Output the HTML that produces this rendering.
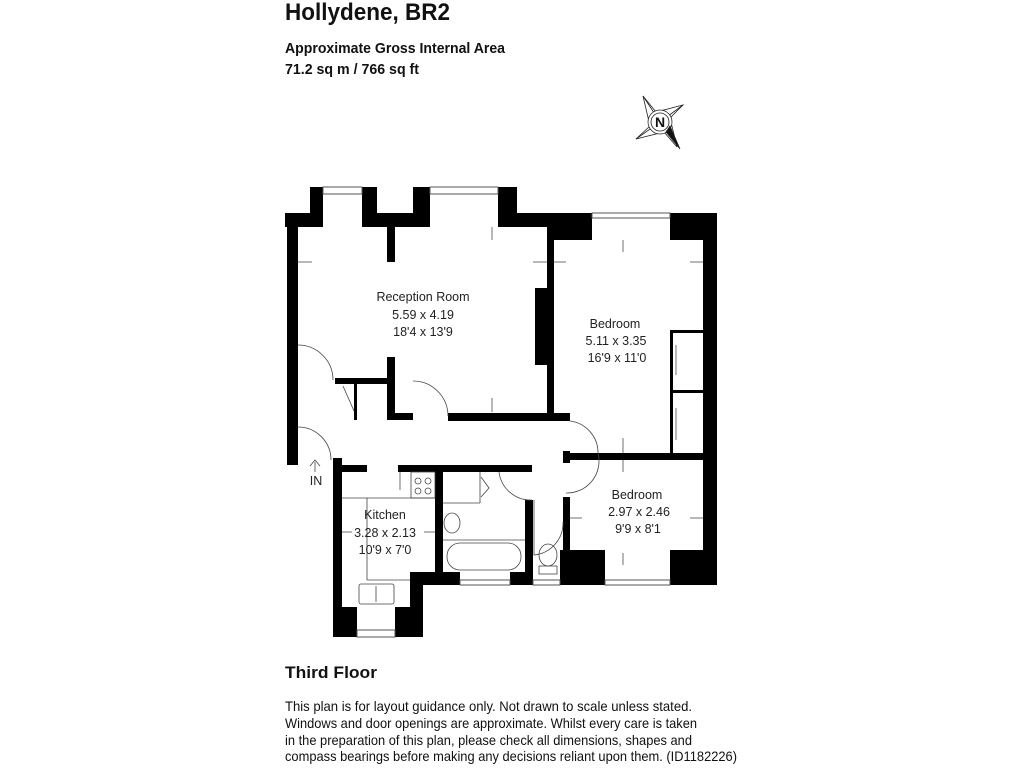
<!DOCTYPE html>
<html><head><meta charset="utf-8"><style>
html,body{margin:0;padding:0;background:#fff;}
svg{display:block;font-family:"Liberation Sans",Arial,sans-serif;}
</style></head><body>
<svg width="1024" height="768" viewBox="0 0 1024 768" xmlns="http://www.w3.org/2000/svg">
<rect width="1024" height="768" fill="#fff"/>
<!-- header -->
<text x="285" y="20" font-size="24" font-weight="bold" textLength="165" lengthAdjust="spacingAndGlyphs" fill="#111">Hollydene, BR2</text>
<text x="285" y="53" font-size="15" font-weight="bold" textLength="220" lengthAdjust="spacingAndGlyphs" fill="#111">Approximate Gross Internal Area</text>
<text x="285" y="74" font-size="15" font-weight="bold" textLength="134" lengthAdjust="spacingAndGlyphs" fill="#111">71.2 sq m / 766 sq ft</text>
<!-- compass -->
<g transform="translate(660,122)" stroke="#222" stroke-width="0.8" fill="none">
<polygon points="-17,-26 -4,-10 23,-17 10,-4 17,25 4,10 -24,17 -10,4"/>
<line x1="-17" y1="-26" x2="0" y2="0"/><line x1="23" y1="-17" x2="0" y2="0"/>
<line x1="-24" y1="17" x2="0" y2="0"/>
<circle cx="0" cy="0" r="12" fill="#fff"/><circle cx="0" cy="0" r="9" fill="#fff"/>
<polygon points="6,10 10,4 20,27" fill="#111"/>
<text x="0" y="5" font-size="14" font-weight="bold" text-anchor="middle" fill="#111" stroke="none">N</text>
</g>
<!-- walls -->
<g fill="#000">
<rect x="285" y="213" width="38" height="14"/>
<rect x="287" y="213" width="11" height="252"/>
<rect x="310" y="187" width="13" height="40"/>
<rect x="362" y="187" width="15" height="40"/>
<rect x="377" y="213" width="36" height="14"/>
<rect x="413" y="187" width="17" height="40"/>
<rect x="498" y="187" width="19" height="40"/>
<rect x="517" y="213" width="75" height="14"/>
<rect x="548" y="213" width="44" height="27"/>
<rect x="670" y="213" width="47" height="27"/>
<rect x="703" y="213" width="14" height="372"/>
<rect x="547" y="227" width="7" height="194"/>
<rect x="535" y="288" width="12" height="77"/>
<rect x="387" y="227" width="8" height="35"/>
<rect x="387" y="357" width="8" height="63"/>
<rect x="335" y="378" width="60" height="6"/>
<rect x="354" y="384" width="3" height="36"/>
<rect x="395" y="413" width="18" height="7"/>
<rect x="448" y="413" width="122" height="8"/>
<rect x="563" y="453" width="140" height="7"/>
<rect x="563" y="451" width="7" height="12"/>
<rect x="670" y="330" width="3" height="123"/>
<rect x="672" y="330" width="31" height="3"/>
<rect x="672" y="390" width="31" height="3"/>
<rect x="333" y="458" width="9" height="179"/>
<rect x="342" y="465" width="25" height="7"/>
<rect x="398" y="465" width="134" height="7"/>
<rect x="435" y="472" width="8" height="100"/>
<rect x="525" y="500" width="8" height="83"/>
<rect x="563" y="497" width="7" height="88"/>
<rect x="410" y="572" width="50" height="13"/>
<rect x="410" y="572" width="13" height="65"/>
<rect x="510" y="572" width="23" height="13"/>
<rect x="560" y="550" width="45" height="35"/>
<rect x="670" y="550" width="47" height="35"/>
<rect x="333" y="607" width="24" height="30"/>
<rect x="395" y="607" width="22" height="30"/>
</g>
<!-- windows -->
<g fill="none" stroke="#555" stroke-width="1">
<rect x="323" y="187" width="39" height="7"/>
<rect x="430" y="187" width="68" height="7"/>
<rect x="592" y="213" width="78" height="5"/>
<rect x="605" y="580" width="65" height="5"/>
<rect x="460" y="580" width="50" height="5"/>
<rect x="533" y="580" width="27" height="5"/>
<rect x="357" y="630" width="38" height="7"/>
</g>
<!-- doors / fixtures -->
<g fill="none" stroke="#444" stroke-width="0.8">
<path d="M298,345 A35,35 0 0 1 333,380"/>
<path d="M298,427 A33,33 0 0 1 331,460"/>
<path d="M413,381 A35,35 0 0 1 448,416"/>
<path d="M570,421 A32,32 0 0 1 598,453 A32,32 0 0 1 566,493"/>
<path d="M499,472 A32,32 0 0 0 532,500"/>
<path d="M534,500 L534,555 A32,32 0 0 0 563,522"/>
<path d="M343,386 L354,411"/>
<line x1="342" y1="498" x2="435" y2="498"/>
<line x1="367" y1="498" x2="367" y2="580"/>
<line x1="367" y1="580" x2="410" y2="580"/>
<rect x="411" y="472" width="24" height="26"/>
<circle cx="418" cy="481" r="3"/><circle cx="428" cy="481" r="3"/>
<circle cx="418" cy="491" r="3"/><circle cx="428" cy="491" r="3"/>
<rect x="359" y="584" width="35" height="20" rx="2"/>
<line x1="376" y1="586" x2="376" y2="602"/>
<line x1="443" y1="540" x2="525" y2="540"/>
<rect x="447" y="543" width="74" height="27" rx="13"/>
<ellipse cx="452" cy="523" rx="8" ry="10"/>
<line x1="443" y1="503" x2="480" y2="503"/>
<line x1="480" y1="472" x2="480" y2="503"/>
<path d="M481,477 L489,488 L481,497"/>
<ellipse cx="548" cy="555" rx="9" ry="11"/>
<rect x="539" y="566" width="18" height="8"/>
<line x1="315" y1="472" x2="315" y2="462"/><path d="M310,466 L315,460 L320,466"/>
</g>
<!-- dimension arrows -->
<g stroke="#333" stroke-width="0.7">
<line x1="298" y1="262" x2="312" y2="262"/><line x1="533" y1="262" x2="547" y2="262"/>
<line x1="492" y1="227" x2="492" y2="240"/><line x1="492" y1="398" x2="492" y2="412"/>
<line x1="554" y1="262" x2="566" y2="262"/><line x1="690" y1="262" x2="703" y2="262"/>
<line x1="623" y1="240" x2="623" y2="252"/><line x1="623" y1="438" x2="623" y2="453"/>
<line x1="623" y1="460" x2="623" y2="472"/><line x1="623" y1="553" x2="623" y2="565"/>
<line x1="570" y1="518" x2="582" y2="518"/><line x1="690" y1="518" x2="703" y2="518"/>
<line x1="342" y1="532" x2="352" y2="532"/><line x1="424" y1="532" x2="435" y2="532"/>
<line x1="400" y1="472" x2="400" y2="490"/>
<line x1="676" y1="345" x2="676" y2="375"/><line x1="676" y1="408" x2="676" y2="440"/>
</g>
<!-- room labels -->
<g font-size="12.5" fill="#222" text-anchor="middle">
<text x="423" y="301">Reception Room</text>
<text x="423" y="319">5.59 x 4.19</text>
<text x="423" y="336">18'4 x 13'9</text>
<text x="615" y="328">Bedroom</text>
<text x="616" y="345">5.11 x 3.35</text>
<text x="617" y="362">16'9 x 11'0</text>
<text x="637" y="499">Bedroom</text>
<text x="639" y="516">2.97 x 2.46</text>
<text x="638" y="533">9'9 x 8'1</text>
<text x="385" y="519">Kitchen</text>
<text x="385" y="537">3.28 x 2.13</text>
<text x="385" y="554">10'9 x 7'0</text>
<text x="316" y="485">IN</text>
</g>
<!-- footer -->
<text x="285" y="678" font-size="17" font-weight="bold" textLength="92" lengthAdjust="spacingAndGlyphs" fill="#111">Third Floor</text>
<g font-size="14" fill="#111">
<text x="285" y="711" textLength="407" lengthAdjust="spacingAndGlyphs">This plan is for layout guidance only. Not drawn to scale unless stated.</text>
<text x="285" y="728" textLength="412" lengthAdjust="spacingAndGlyphs">Windows and door openings are approximate. Whilst every care is taken</text>
<text x="285" y="745" textLength="407" lengthAdjust="spacingAndGlyphs">in the preparation of this plan, please check all dimensions, shapes and</text>
<text x="285" y="761" textLength="452" lengthAdjust="spacingAndGlyphs">compass bearings before making any decisions reliant upon them. (ID1182226)</text>
</g>
</svg>
</body></html>
